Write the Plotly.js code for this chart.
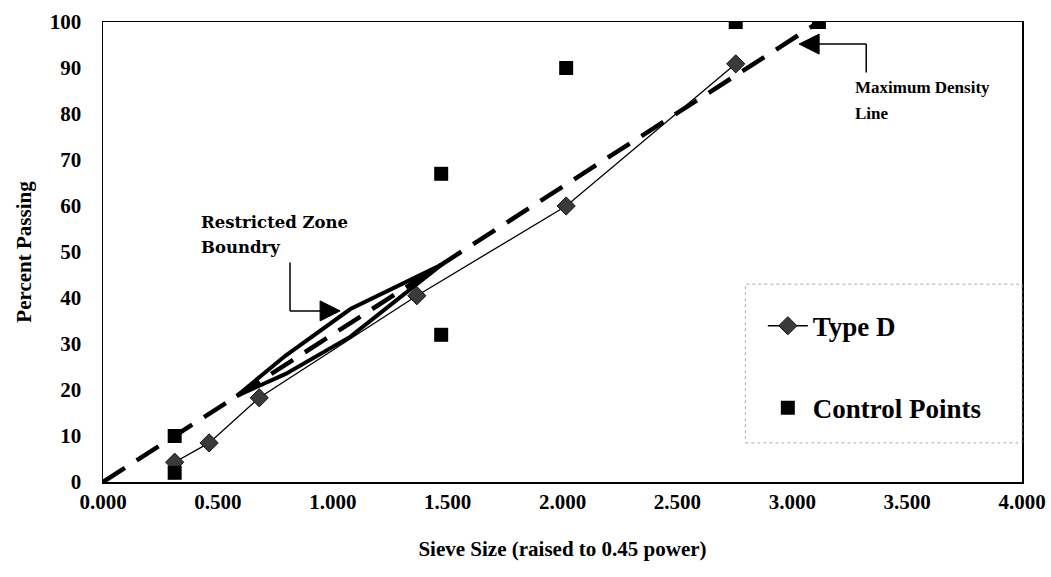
<!DOCTYPE html>
<html>
<head>
<meta charset="utf-8">
<script src="https://cdn.plot.ly/plotly-3.0.1.min.js"></script>
<style>html,body{margin:0;padding:0;background:#fff;}#chart{width:1051px;height:577px;}</style>
</head>
<body>
<div id="chart"></div>
<script>
// Sieve sizes raised to 0.45 power
const typeDX = [0.312, 0.462, 0.680, 1.366, 2.016, 2.754];
const typeDY = [4.3, 8.5, 18.3, 40.5, 60.0, 90.9];

const controlX = [0.312, 0.312, 1.472, 1.472, 2.016, 2.754, 3.116];
const controlY = [2, 10, 32, 67, 90, 100, 100];

const maxDensityX = [0, 3.116];
const maxDensityY = [0, 100];

const zoneUpperX = [0.582, 0.795, 1.077, 1.472];
const zoneUpperY = [18.7, 27.5, 37.6, 47.2];
const zoneLowerX = [0.582, 0.795, 1.077, 1.472];
const zoneLowerY = [18.7, 23.5, 31.6, 47.2];

const xTickVals = [0, 0.5, 1, 1.5, 2, 2.5, 3, 3.5, 4];
const xTickText = ['0.000','0.500','1.000','1.500','2.000','2.500','3.000','3.500','4.000'];
const yTickVals = [0,10,20,30,40,50,60,70,80,90,100];

const serif = 'Liberation Serif, Times New Roman, serif';
const slab = 'DejaVu Serif, serif';

const traces = [
  {x: maxDensityX, y: maxDensityY, mode: 'lines', showlegend: false, hoverinfo: 'skip',
   line: {color: '#000', width: 4.5, dash: '26px,14px'}},
  {x: zoneUpperX, y: zoneUpperY, mode: 'lines', showlegend: false, hoverinfo: 'skip',
   line: {color: '#000', width: 4}},
  {x: zoneLowerX, y: zoneLowerY, mode: 'lines', showlegend: false, hoverinfo: 'skip',
   line: {color: '#000', width: 4}},
  {x: typeDX, y: typeDY, name: 'Type D', mode: 'lines+markers', legendgroup: 'a',
   line: {color: '#000', width: 1.3},
   marker: {symbol: 'diamond', size: 14, color: '#3a3a3a', line: {color: '#111', width: 1}}},
  {x: controlX, y: controlY, name: 'Control Points', mode: 'markers', legendgroup: 'b',
   marker: {symbol: 'square', size: 14, color: '#000'}}
];

// arrow geometry (data coords)
const rzArrow = {x: 0.814, yTop: 47.7, yBot: 37.2, tip: 1.032};
const mdArrow = {x: 3.322, yTop: 95.2, yBot: 89.0, tip: 3.03};

const layout = {
  width: 1051, height: 577,
  margin: {l: 103, r: 29, t: 22, b: 95},
  paper_bgcolor: '#fff', plot_bgcolor: '#fff',
  showlegend: true,
  legend: {x: 0.718, xanchor: 'left', y: 0.392, yanchor: 'top',
    font: {family: serif, size: 27, color: '#000', weight: 'bold'}, bgcolor: 'rgba(0,0,0,0)',
    borderwidth: 0, traceorder: 'grouped', tracegroupgap: 44, itemwidth: 40},
  xaxis: {range: [0, 4], tickvals: xTickVals, ticktext: xTickText, showgrid: false, zeroline: false,
    showline: true, linecolor: '#000', linewidth: 1.5, mirror: true, ticks: '',
    ticklabelstandoff: 0,
    tickfont: {family: serif, size: 21, color: '#000', weight: 'bold'},
    title: {text: '<b>Sieve Size (raised to 0.45 power)</b>', standoff: 28,
      font: {family: serif, size: 21, color: '#000'}}},
  yaxis: {range: [0, 100], tickvals: yTickVals, showgrid: false, zeroline: false,
    showline: true, linecolor: '#000', linewidth: 1.5, mirror: true, ticks: '',
    ticklabelstandoff: 16,
    tickfont: {family: serif, size: 21, color: '#000', weight: 'bold'},
    title: {text: '<b>Percent Passing</b>', standoff: 12,
      font: {family: serif, size: 21, color: '#000'}}},
  shapes: [
    {type: 'rect', xref: 'paper', yref: 'paper', x0: 0.699, x1: 1, y0: 0.085, y1: 0.43,
     line: {color: '#aaa', width: 1, dash: 'dot'}},
    {type: 'line', xref: 'x', yref: 'y', x0: rzArrow.x, x1: rzArrow.x, y0: rzArrow.yTop, y1: rzArrow.yBot,
     line: {color: '#000', width: 1.5}},
    {type: 'line', xref: 'x', yref: 'y', x0: rzArrow.x, x1: rzArrow.tip - 0.07, y0: rzArrow.yBot, y1: rzArrow.yBot,
     line: {color: '#000', width: 1.5}},
    {type: 'path', xref: 'x', yref: 'y', xsizemode: 'pixel', ysizemode: 'pixel',
     xanchor: rzArrow.tip, yanchor: rzArrow.yBot,
     path: 'M 0 0 L -20 10 L -20 -10 Z', fillcolor: '#000', line: {color: '#000', width: 1}},
    {type: 'line', xref: 'x', yref: 'y', x0: mdArrow.x, x1: mdArrow.x, y0: mdArrow.yTop, y1: mdArrow.yBot,
     line: {color: '#000', width: 1.5}},
    {type: 'line', xref: 'x', yref: 'y', x0: mdArrow.x, x1: mdArrow.tip + 0.07, y0: mdArrow.yTop, y1: mdArrow.yTop,
     line: {color: '#000', width: 1.5}},
    {type: 'path', xref: 'x', yref: 'y', xsizemode: 'pixel', ysizemode: 'pixel',
     xanchor: mdArrow.tip, yanchor: mdArrow.yTop,
     path: 'M 0 0 L 20 10 L 20 -10 Z', fillcolor: '#000', line: {color: '#000', width: 1}}
  ],
  annotations: [
    {xref: 'x', yref: 'y', x: 0.42, y: 56.5, xanchor: 'left', yanchor: 'middle', showarrow: false,
     text: '<b>Restricted Zone</b>', font: {family: slab, size: 16.5, color: '#000'}},
    {xref: 'x', yref: 'y', x: 0.42, y: 51.0, xanchor: 'left', yanchor: 'middle', showarrow: false,
     text: '<b>Boundry</b>', font: {family: slab, size: 16.5, color: '#000'}},
    {xref: 'x', yref: 'y', x: 3.264, y: 85.8, xanchor: 'left', yanchor: 'middle', showarrow: false,
     text: '<b>Maximum Density</b>', font: {family: serif, size: 17, color: '#000'}},
    {xref: 'x', yref: 'y', x: 3.264, y: 80.2, xanchor: 'left', yanchor: 'middle', showarrow: false,
     text: '<b>Line</b>', font: {family: serif, size: 17, color: '#000'}}
  ]
};

Plotly.newPlot('chart', traces, layout, {displayModeBar: false, staticPlot: true});
</script>
</body>
</html>
